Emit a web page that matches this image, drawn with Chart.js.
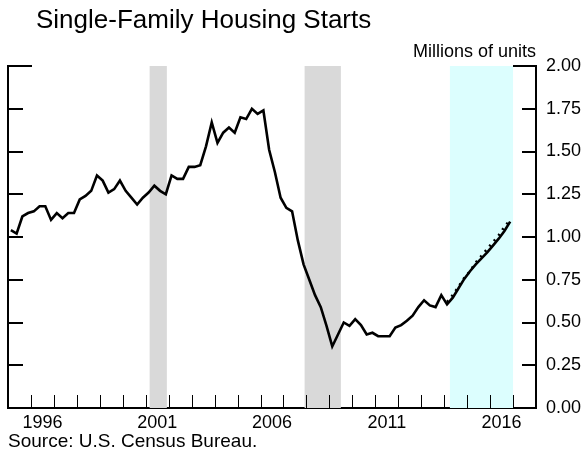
<!DOCTYPE html>
<html>
<head>
<meta charset="utf-8">
<script src="https://cdn.jsdelivr.net/npm/chart.js@4/dist/chart.umd.min.js"></script>
<style>
  html, body { margin: 0; padding: 0; background: #fff; }
  #chart { display: block; }
</style>
</head>
<body>
<canvas id="chart" width="585" height="453"></canvas>
<script>
// quarterly single-family starts, millions of units (1995:Q1 .. 2016:Q4)
const firstYear = 1995;
const starts = [
  1.04, 1.02, 1.12, 1.14,   // 1995
  1.15, 1.18, 1.18, 1.10,   // 1996
  1.14, 1.11, 1.14, 1.14,   // 1997
  1.22, 1.24, 1.27, 1.36,   // 1998
  1.33, 1.26, 1.28, 1.33,   // 1999
  1.27, 1.23, 1.19, 1.23,   // 2000
  1.26, 1.30, 1.27, 1.25,   // 2001
  1.36, 1.34, 1.34, 1.41,   // 2002
  1.41, 1.42, 1.53, 1.67,   // 2003
  1.55, 1.61, 1.64, 1.61,   // 2004
  1.70, 1.69, 1.75, 1.72,   // 2005
  1.74, 1.51, 1.38, 1.23,   // 2006
  1.17, 1.15, 0.98, 0.84,   // 2007
  0.75, 0.66, 0.59, 0.48,   // 2008
  0.36, 0.43, 0.50, 0.48,   // 2009
  0.52, 0.485, 0.43, 0.44,  // 2010
  0.42, 0.42, 0.42, 0.47,   // 2011
  0.485, 0.51, 0.54, 0.59,  // 2012
  0.63, 0.60, 0.59, 0.66,   // 2013
  0.606, 0.645, 0.70, 0.755, // 2014
  0.80, 0.84, 0.875, 0.91,  // 2015
  0.95, 0.99, 1.035, 1.09   // 2016
];
// dotted series, 2014:Q1 .. 2016:Q4
const dottedStartYear = 2014;
const dotted = [0.62, 0.66, 0.71, 0.76, 0.80, 0.85, 0.89, 0.93, 0.97, 1.01, 1.06, 1.10];

const recessions = [[2001.17, 2001.92], [2007.92, 2009.5]];
const blueSpan = [2014.25, 2017.0];
const yearLabels = [1996, 2001, 2006, 2011, 2016];
const yearTicks = [1996,1997,1998,1999,2000,2001,2002,2003,2004,2005,2006,2007,2008,2009,2010,2011,2012,2013,2014,2015,2016,2017];
const yTicks = [0.25, 0.5, 0.75, 1.0, 1.25, 1.5, 1.75, 2.0];

const FONT = '"Liberation Sans", Arial, Helvetica, sans-serif';
const qpos = (y0, i) => y0 + (i + 0.5) / 4;

const shading = {
  id: 'shading',
  beforeDatasetsDraw(chart) {
    const {ctx, chartArea: a, scales: {x}} = chart;
    ctx.save();
    ctx.fillStyle = '#dcfefe';
    ctx.fillRect(x.getPixelForValue(blueSpan[0]), a.top, x.getPixelForValue(blueSpan[1]) - x.getPixelForValue(blueSpan[0]), a.bottom - a.top);
    ctx.fillStyle = '#d9d9d9';
    recessions.forEach(([s, e]) => {
      const x0 = x.getPixelForValue(s), x1 = x.getPixelForValue(e);
      ctx.fillRect(x0, a.top, x1 - x0, a.bottom - a.top);
    });
    ctx.restore();
  }
};

// inward tick marks + texts
const decor = {
  id: 'decor',
  afterDraw(chart) {
    const {ctx, chartArea: a, scales: {x, y}} = chart;
    ctx.save();
    ctx.strokeStyle = '#000';
    ctx.lineWidth = 2;
    yTicks.forEach(v => {
      const py = Math.round(y.getPixelForValue(v));
      const top = v === 2.0;
      ctx.beginPath();
      ctx.moveTo(a.left, py); ctx.lineTo(a.left + (top ? 24 : 15), py);
      ctx.moveTo(a.right, py); ctx.lineTo(a.right - (top ? 23 : 14), py);
      ctx.stroke();
    });
    ctx.lineWidth = 1;
    yearTicks.forEach(v => {
      const px = Math.round(x.getPixelForValue(v)) + 0.5;
      ctx.beginPath();
      ctx.moveTo(px, a.bottom); ctx.lineTo(px, a.bottom - 13);
      ctx.stroke();
    });
    ctx.fillStyle = '#000';
    ctx.textBaseline = 'alphabetic';
    ctx.font = '26px ' + FONT;
    ctx.textAlign = 'left';
    ctx.fillText('Single-Family Housing Starts', 36, 28);
    ctx.font = '18px ' + FONT;
    ctx.textAlign = 'right';
    ctx.fillText('Millions of units', a.right, 57);
    ctx.font = '19px ' + FONT;
    ctx.textAlign = 'left';
    ctx.fillText('Source: U.S. Census Bureau.', 8, 447);
    ctx.restore();
  }
};

const axisBorder = {display: true, color: '#000', width: 2};

new Chart(document.getElementById('chart'), {
  type: 'line',
  data: {
    datasets: [
      {
        data: starts.map((v, i) => ({x: qpos(firstYear, i), y: v})),
        borderColor: '#000', borderWidth: 2.6, pointRadius: 0, tension: 0, yAxisID: 'y'
      },
      {
        data: dotted.map((v, i) => ({x: qpos(dottedStartYear, i), y: v})),
        borderColor: '#000', borderWidth: 2.6, borderDash: [2, 5], pointRadius: 0, tension: 0, yAxisID: 'y'
      }
    ]
  },
  options: {
    responsive: false,
    animation: false,
    layout: {padding: {top: 66, left: 8, right: 0, bottom: 0}},
    plugins: {legend: {display: false}, tooltip: {enabled: false}},
    scales: {
      x: {
        type: 'linear', min: 1995, max: 2018,
        afterBuildTicks: s => { s.ticks = yearLabels.map(v => ({value: v + 0.5})); },
        ticks: {
          callback: v => String(Math.floor(v)),
          font: {family: FONT, size: 18}, color: '#000', padding: 4,
          maxRotation: 0, autoSkip: false
        },
        grid: {display: false, drawTicks: false},
        border: axisBorder,
        afterFit: s => { s.height = 45; }
      },
      y: {
        position: 'right', min: 0, max: 2,
        ticks: {
          stepSize: 0.25, callback: v => v.toFixed(2),
          font: {family: FONT, size: 18}, color: '#000', padding: 10
        },
        grid: {display: false, drawTicks: false},
        border: axisBorder,
        afterFit: s => { s.width = 49; }
      },
      yl: {
        position: 'left', min: 0, max: 2,
        ticks: {display: false},
        grid: {display: false, drawTicks: false},
        border: axisBorder,
        afterFit: s => { s.width = 0; }
      }
    }
  },
  plugins: [shading, decor]
});
</script>
</body>
</html>
